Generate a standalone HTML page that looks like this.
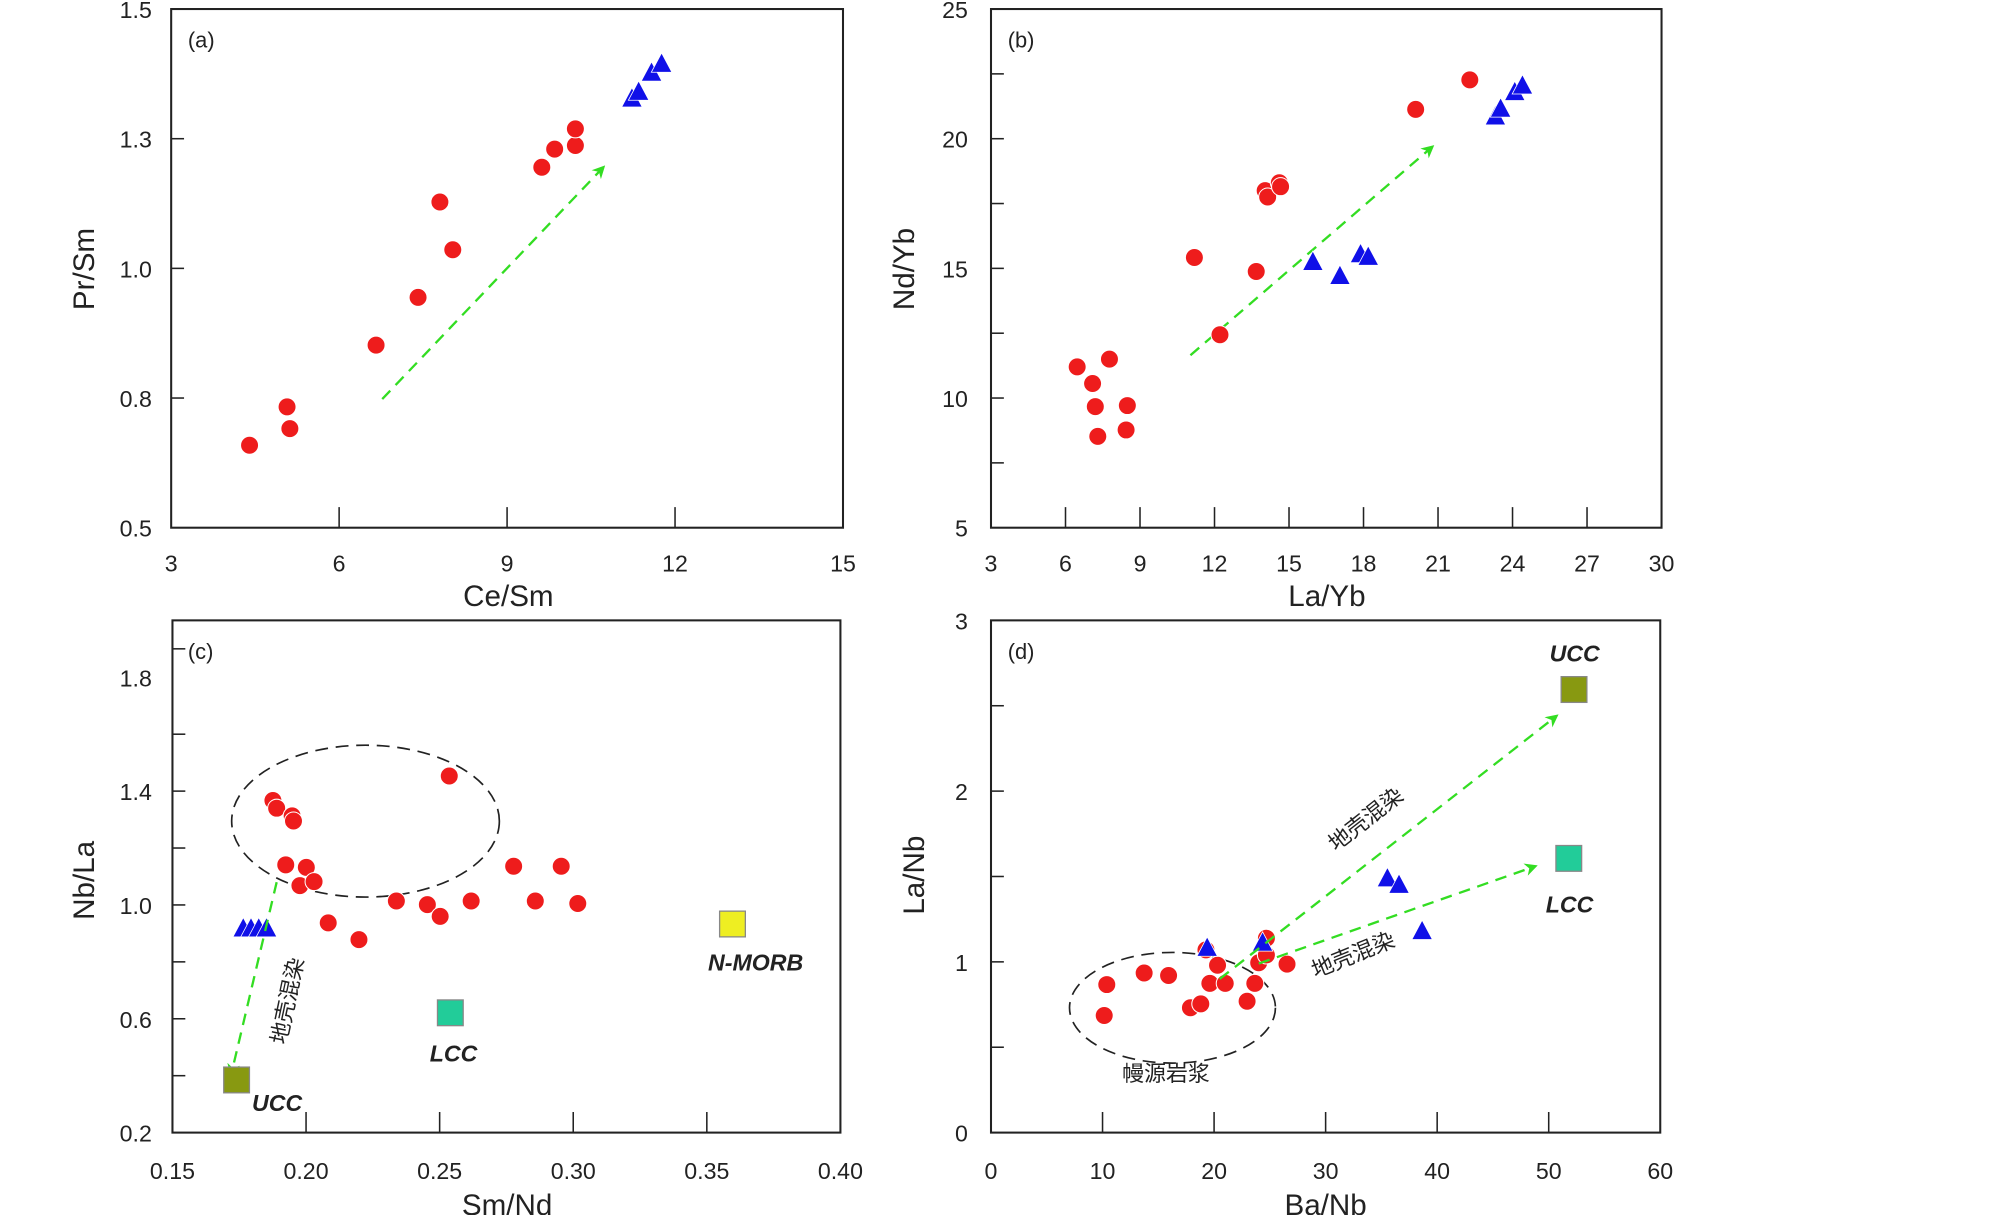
<!DOCTYPE html>
<html><head><meta charset="utf-8"><style>
html,body{margin:0;padding:0;background:#fff;}
svg{display:block;}
text{font-family:"Liberation Sans","Noto Sans CJK SC",sans-serif;}
</style></head><body>
<svg id="fig" width="2008" height="1215" viewBox="0 0 1560.2 944" xmlns="http://www.w3.org/2000/svg">
<defs>
<marker id="ah" markerWidth="10" markerHeight="10" refX="8" refY="5" orient="auto" markerUnits="userSpaceOnUse" viewBox="0 0 10 10"><path d="M0,0 L10,5 L0,10 L3,5 z" fill="#33dd22"/></marker>
</defs>
</svg>
<script>
// Panel (a) data
const aRedX=[4.40,5.07,5.12,6.66,7.41,7.80,8.03,9.62,9.85,10.22,10.22];
const aRedY=[0.659,0.733,0.691,0.852,0.944,1.128,1.036,1.195,1.230,1.237,1.269];
const aBlueX=[11.23,11.35,11.58,11.76];
const aBlueY=[1.326,1.339,1.376,1.393];
const aXTicks=[3,6,9,12,15];
const aYTicks=[0.5,0.75,1.0,1.25,1.5];
const aYLabels=["0.5","0.8","1.0","1.3","1.5"];
// Panel (b) data
const bRedX=[6.47,7.09,7.20,7.30,7.77,8.49,8.44,11.19,13.68,12.22,14.04,14.14,14.61,14.66,20.10,22.28];
const bRedY=[11.20,10.56,9.67,8.52,11.50,9.71,8.77,15.42,14.88,12.44,18.00,17.75,18.30,18.15,21.13,22.27];
const bBlueX=[15.96,17.05,17.88,18.19,23.31,23.52,24.09,24.40];
const bBlueY=[15.22,14.68,15.52,15.42,20.83,21.13,21.77,22.02];
const bXTicks=[3,6,9,12,15,18,21,24,27,30];
const bYTicks=[5,10,15,20,25];
// Panel (c) data
const cRedX=[0.1876,0.1890,0.1948,0.1953,0.1924,0.1977,0.2001,0.2030,0.2083,0.2198,0.2536,0.2338,0.2454,0.2502,0.2618,0.2777,0.2858,0.2955,0.3017];
const cRedY=[1.367,1.340,1.313,1.295,1.141,1.068,1.132,1.082,0.937,0.878,1.453,1.014,1.001,0.960,1.014,1.136,1.014,1.136,1.005];
const cBlueX=[0.1765,0.1794,0.1823,0.1852];
const cBlueY=[0.915,0.915,0.915,0.915];
const cRefNames=["UCC","LCC","N-MORB"];
const cRefX=[0.174,0.254,0.3596];
const cRefY=[0.385,0.621,0.933];
const cXTicks=[0.15,0.20,0.25,0.30,0.35,0.40];
const cYTicks=[0.2,0.6,1.0,1.4,1.8];
// Panel (d) data
const dRedX=[10.38,10.15,13.73,15.92,17.88,18.81,19.27,19.62,20.31,21.0,22.96,23.65,24.0,24.69,24.69,26.54];
const dRedY=[0.867,0.686,0.935,0.920,0.731,0.754,1.070,0.874,0.980,0.874,0.769,0.874,0.995,1.138,1.040,0.987];
const dBlueX=[19.38,24.35,35.54,36.58,38.65];
const dBlueY=[1.078,1.108,1.485,1.447,1.176];
const dRefNames=["UCC","LCC"];
const dRefX=[52.27,51.8];
const dRefY=[2.595,1.606];
const dXTicks=[0,10,20,30,40,50,60];
const dYTicks=[0,1,2,3];

const NS="http://www.w3.org/2000/svg";
const svg=document.getElementById('fig');
function mk(tag,attrs,parent,txt){const e=document.createElementNS(NS,tag);for(const k in attrs)e.setAttribute(k,attrs[k]);if(txt!==undefined)e.textContent=txt;(parent||svg).appendChild(e);return e;}
function panel(id,L,R,T,B,xmin,xmax,ymin,ymax){
  const g=mk('g',{});
  
  
  const sx=v=>L+(v-xmin)/(xmax-xmin)*(R-L);
  const sy=v=>B-(v-ymin)/(ymax-ymin)*(B-T);
  const f=mk('rect',{x:L,y:T,width:R-L,height:B-T,fill:'none',stroke:'#222','stroke-width':1.6},g);
  
  
  return {g,sx,sy};
}
function xticks(p,ticks,labels,B,ly){
  ticks.forEach((t,i)=>{
    const x=p.sx(t);
    if(i>0&&i<ticks.length-1) mk('line',{x1:x,x2:x,y1:B,y2:B-16,stroke:'#222','stroke-width':1.2},p.g);
    const tx=mk('text',{x:x,y:ly,'font-size':18,'text-anchor':'middle',fill:'#222'},p.g,labels?labels[i]:String(t));
    
    
  });
}
function yticks(p,ticks,labels,L,lx,minor){
  ticks.forEach((t,i)=>{
    const y=p.sy(t);
    if(i>0&&i<ticks.length-1) mk('line',{x1:L,x2:L+10,y1:y,y2:y,stroke:'#222','stroke-width':1.2},p.g);
    const tx=mk('text',{x:lx,y:y+7,'font-size':18,'text-anchor':'end',fill:'#222'},p.g,labels?labels[i]:String(t));
    
    
  });
  (minor||[]).forEach(t=>{const y=p.sy(t);mk('line',{x1:L,x2:L+10,y1:y,y2:y,stroke:'#222','stroke-width':1.2},p.g);});
}
function dots(p,xs,ys){
  xs.forEach((v,i)=>{
    const c=mk('circle',{cx:p.sx(v),cy:p.sy(ys[i]),r:7,fill:'#ee1c1c',stroke:'#fff','stroke-width':0.8},p.g);
    
    
  });
}
function tris(p,xs,ys){
  xs.forEach((v,i)=>{
    const x=p.sx(v),y=p.sy(ys[i]);
    const t=mk('polygon',{points:`${x},${y-9} ${x-8},${y+6} ${x+8},${y+6}`,fill:'#1010e8',stroke:'#fff','stroke-width':0.6},p.g);
    
    
  });
}
function arrow(p,x1,y1,x2,y2,name){
  const a=mk('line',{x1:p.sx(x1),y1:p.sy(y1),x2:p.sx(x2),y2:p.sy(y2),stroke:'#33dd22','stroke-width':1.8,'stroke-dasharray':'9,6','marker-end':'url(#ah)'},p.g);
  
  
}
function label(p,x,y,txt,name,extra){
  const t=mk('text',Object.assign({x:x,y:y,'font-size':18,fill:'#222'},extra||{}),p.g,txt);
  
  
  return t;
}
function refsq(p,x,y,fill,name){
  const s=mk('rect',{x:p.sx(x)-10,y:p.sy(y)-10,width:20,height:20,fill:fill,stroke:'#888','stroke-width':1},p.g);
  
  
}

// (a)
const pa=panel('a',133,655,7,410,3,15,0.5,1.5);
xticks(pa,aXTicks,null,410,444);
yticks(pa,aYTicks,aYLabels,133,118);
label(pa,146,37,'(a)','panel-label-a',{'font-size':17});
arrow(pa,6.77,0.748,10.72,1.195,'trend-arrow-a');
dots(pa,aRedX,aRedY); tris(pa,aBlueX,aBlueY);
label(pa,395,471,'Ce/Sm','x-axis-title-a',{'font-size':23,'text-anchor':'middle'});
label(pa,0,0,'Pr/Sm','y-axis-title-a',{'font-size':23,'text-anchor':'middle',transform:'translate(73,209) rotate(-90)'});

// (b)
const pb=panel('b',770,1291,7,410,3,30,5,25);
xticks(pb,bXTicks,null,410,444);
yticks(pb,bYTicks,null,770,752,[7.5,12.5,17.5,22.5]);
label(pb,783,37,'(b)','panel-label-b',{'font-size':17});
arrow(pb,11.03,11.65,20.77,19.69,'trend-arrow-b');
dots(pb,bRedX,bRedY); tris(pb,bBlueX,bBlueY);
label(pb,1031,471,'La/Yb','x-axis-title-b',{'font-size':23,'text-anchor':'middle'});
label(pb,0,0,'Nd/Yb','y-axis-title-b',{'font-size':23,'text-anchor':'middle',transform:'translate(710,209) rotate(-90)'});

// (c)
const pc=panel('c',134,653,482,880,0.15,0.40,0.2,2.0);
xticks(pc,cXTicks,cXTicks.map(v=>v.toFixed(2)),880,916);
yticks(pc,cYTicks,cYTicks.map(v=>v.toFixed(1)),134,118,[0.4,0.8,1.2,1.6,1.9]);
label(pc,146,512,'(c)','panel-label-c',{'font-size':17});
const ec=mk('ellipse',{cx:284,cy:638,rx:104,ry:59,fill:'none',stroke:'#222','stroke-width':1.3,'stroke-dasharray':'10,6'},pc.g);


dots(pc,cRedX,cRedY); tris(pc,cBlueX,cBlueY);
arrow(pc,0.1890,1.080,0.1720,0.405,'contamination-arrow-c');
refsq(pc,cRefX[0],cRefY[0],'#889911','ucc-square-c');
refsq(pc,cRefX[1],cRefY[1],'#22cc99','lcc-square-c');
refsq(pc,cRefX[2],cRefY[2],'#eeee22','nmorb-square-c');
label(pc,pc.sx(cRefX[0])+12,pc.sy(cRefY[0])+24,cRefNames[0],'ucc-label-c',{'font-weight':'bold','font-style':'italic','font-size':18});
label(pc,pc.sx(cRefX[1])-16,pc.sy(cRefY[1])+38,cRefNames[1],'lcc-label-c',{'font-weight':'bold','font-style':'italic','font-size':18});
label(pc,pc.sx(cRefX[2])-19,pc.sy(cRefY[2])+36,cRefNames[2],'nmorb-label-c',{'font-weight':'bold','font-style':'italic','font-size':18});
label(pc,0,0,'地壳混染','contamination-text-c',{'font-size':17,transform:'translate(222,812) rotate(-78)'});
label(pc,394,944,'Sm/Nd','x-axis-title-c',{'font-size':23,'text-anchor':'middle'});
label(pc,0,0,'Nb/La','y-axis-title-c',{'font-size':23,'text-anchor':'middle',transform:'translate(73,684) rotate(-90)'});

// (d)
const pd=panel('d',770,1290,482,880,0,60,0,3);
xticks(pd,dXTicks,null,880,916);
yticks(pd,dYTicks,null,770,752,[0.5,1.5,2.5]);
label(pd,783,512,'(d)','panel-label-d',{'font-size':17});
const ed=mk('ellipse',{cx:911,cy:783,rx:80,ry:43,fill:'none',stroke:'#222','stroke-width':1.3,'stroke-dasharray':'10,6'},pd.g);


dots(pd,dRedX,dRedY); tris(pd,dBlueX,dBlueY);
arrow(pd,20.5,0.90,50.7,2.44,'contamination-arrow-ucc-d');
arrow(pd,24.0,0.99,48.8,1.56,'contamination-arrow-lcc-d');
refsq(pd,dRefX[0],dRefY[0],'#889911','ucc-square-d');
refsq(pd,dRefX[1],dRefY[1],'#22cc99','lcc-square-d');
label(pd,1204,514,dRefNames[0],'ucc-label-d',{'font-weight':'bold','font-style':'italic','font-size':18});
label(pd,1201,709,dRefNames[1],'lcc-label-d',{'font-weight':'bold','font-style':'italic','font-size':18});
label(pd,0,0,'地壳混染','contamination-text-upper-d',{'font-size':17,transform:'translate(1038,662) rotate(-38)'});
label(pd,0,0,'地壳混染','contamination-text-lower-d',{'font-size':17,transform:'translate(1022,760) rotate(-22)'});
label(pd,872,840,'幔源岩浆','mantle-magma-text-d',{'font-size':17});
label(pd,1030,944,'Ba/Nb','x-axis-title-d',{'font-size':23,'text-anchor':'middle'});
label(pd,0,0,'La/Nb','y-axis-title-d',{'font-size':23,'text-anchor':'middle',transform:'translate(718,680) rotate(-90)'});
</script>
</body></html>
